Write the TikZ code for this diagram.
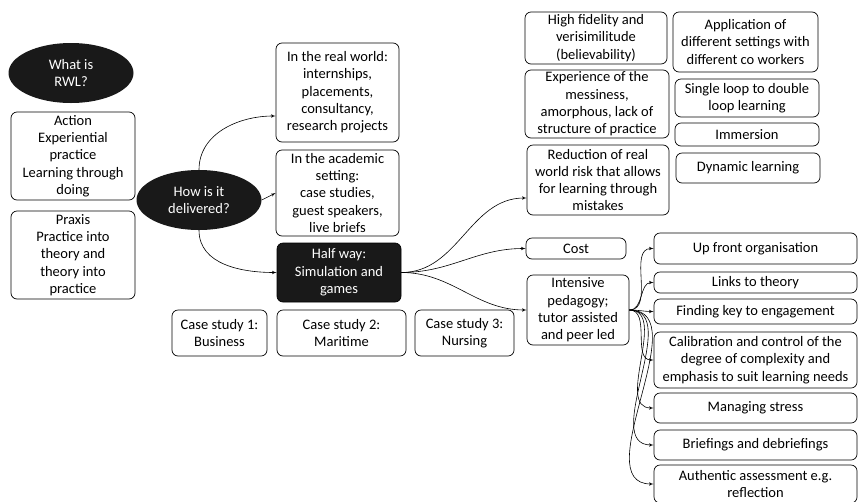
\documentclass[tikz,border=0pt]{standalone}
\usepackage{fontspec}
\setmainfont{Carlito}
\usetikzlibrary{arrows,shapes.geometric}

\begin{document}
\begin{tikzpicture}[x=1pt,y=-1pt,font=\fontsize{14.5}{17.3}\selectfont,
    line/.style={draw, -latex', line width=0.6pt},
    box/.style={draw, rounded corners=6pt, align=center, inner xsep=1pt, inner ysep=0pt, line width=0.7pt},
    blob/.style={ellipse, fill=black!90, text=white, align=center, minimum width=125pt, minimum height=60pt, inner sep=0pt},
    dark/.style={box, fill=black!90, text=white},
    col/.style={box, minimum width=203pt},
    ]
    \useasboundingbox (0,0) rectangle (858,501);

    % Place nodes
    \node [blob] (rwl) at (71,73) {What is\\RWL?};
    \node [box, minimum width=124pt, minimum height=88pt] (act) at (73,156) {Action\\Experiential\\practice\\Learning through\\doing};
    \node [box, minimum width=124pt, minimum height=88pt] (prx) at (73,255) {Praxis\\Practice into\\theory and\\theory into\\practice};
    \node [blob] (how) at (199,200) {How is it\\delivered?};

    \node [box, minimum width=123pt, minimum height=99pt] (real) at (337.5,92.5) {In the real world:\\internships,\\placements,\\consultancy,\\research projects};
    \node [box, minimum width=123pt, minimum height=86pt] (acad) at (337.5,193) {In the academic\\setting:\\case studies,\\guest speakers,\\live briefs};
    \node [dark, minimum width=124pt, minimum height=59pt] (half) at (339,272.5) {Half way:\\Simulation and\\games};

    \node [box, minimum width=95pt, minimum height=46pt] (cs1) at (219.5,333) {Case study 1:\\Business};
    \node [box, minimum width=129pt, minimum height=46pt] (cs2) at (341.5,333) {Case study 2:\\Maritime};
    \node [box, minimum width=99pt, minimum height=46pt] (cs3) at (464.5,333) {Case study 3:\\Nursing};

    \node [box, minimum width=142pt, minimum height=52pt] (fid) at (596,38) {High fidelity and\\verisimilitude\\(believability)};
    \node [box, minimum width=144pt, minimum height=68pt] (mess) at (597,104) {Experience of the\\messiness,\\amorphous, lack of\\structure of practice};
    \node [box, minimum width=142pt, minimum height=70pt] (risk) at (598,180) {Reduction of real\\world risk that allows\\for learning through\\mistakes};
    \node [box, minimum width=145pt, minimum height=60pt] (appl) at (745.5,42) {Application of\\different settings with\\different co workers};
    \node [box, minimum width=144pt, minimum height=38pt] (loop) at (747,98) {Single loop to double\\loop learning};
    \node [box, minimum width=144pt, minimum height=23pt] (imm) at (747,134.5) {Immersion};
    \node [box, minimum width=144pt, minimum height=30pt] (dyn) at (748,168) {Dynamic learning};

    \node [box, minimum width=100pt, minimum height=21pt] (cost) at (576,248.5) {Cost};
    \node [box, minimum width=102pt, minimum height=70pt] (ped) at (578,310) {Intensive\\pedagogy;\\tutor assisted\\and peer led};

    \node [col, minimum height=31pt] (up) at (755.5,248.5) {Up front organisation};
    \node [col, minimum height=21pt] (lnk) at (755.5,282.5) {Links to theory};
    \node [col, minimum height=25pt] (key) at (755.5,311.5) {Finding key to engagement};
    \node [col, minimum height=56pt] (cal) at (755.5,360) {Calibration and control of the\\degree of complexity and\\emphasis to suit learning needs};
    \node [col, minimum height=30pt] (str) at (755.5,408) {Managing stress};
    \node [col, minimum height=30pt] (brf) at (755.5,445) {Briefings and debriefings};
    \node [col, minimum height=38pt] (auth) at (755.5,484) {Authentic assessment e.g.\\reflection};

    % Draw edges
    \path [line] (how.north) to[out=90,in=180] ([yshift=-23.5pt]real.west);
    \path [line] (how.east) -- (acad.west);
    \path [line] (how.south) to[out=-90,in=180] (half.west);

    \path [line] (half.east) to[out=0,in=180] ([yshift=-18pt]risk.west);
    \path [line] (half.east) to[out=0,in=180] (cost.west);
    \path [line] (half.east) to[out=0,in=180] (ped.west);

    \foreach \t in {up,lnk,key,cal,str,brf,auth}
      \path [line] (ped.east) to[out=0,in=180] (\t.west);
  \end{tikzpicture}
\end{document}
